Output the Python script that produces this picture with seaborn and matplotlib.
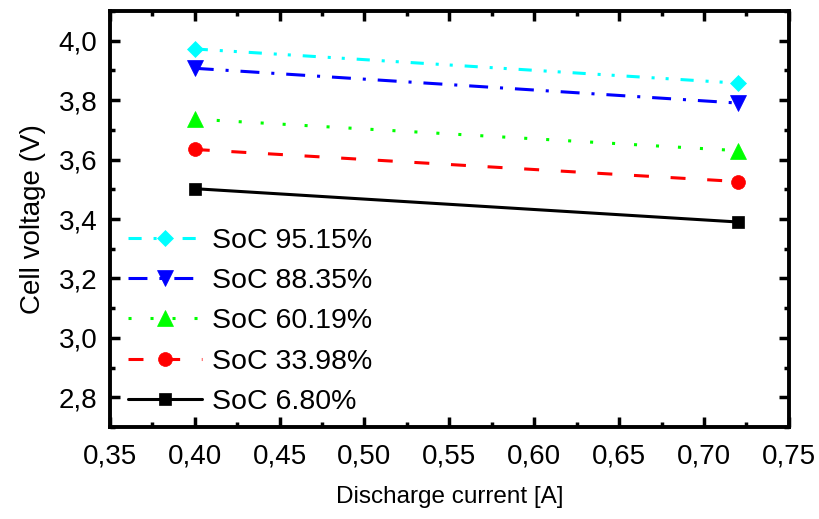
import matplotlib
matplotlib.use("Agg")
import matplotlib.pyplot as plt
import seaborn as sns
import pandas as pd
from matplotlib.ticker import MultipleLocator, FuncFormatter

current = [0.40, 0.72]
soc_labels = ["SoC 95.15%", "SoC 88.35%", "SoC 60.19%", "SoC 33.98%", "SoC 6.80%"]
v_9515 = [3.972, 3.857]
v_8835 = [3.907, 3.790]
v_6019 = [3.736, 3.630]
v_3398 = [3.634, 3.526]
v_0680 = [3.502, 3.390]
values = [v_9515, v_8835, v_6019, v_3398, v_0680]

colors = ["#00ffff", "#0000ff", "#00ff00", "#ff0000", "#000000"]
markers = ["D", "v", "^", "o", "s"]
msizes = [8.5, 11.5, 11.5, 10, 8]
dashes = [(4.3, 3.9, 1, 3.6, 1, 3.9), (6.2, 3.9, 1, 3.9), (1, 6.2), (4.9, 7.1), ()]

rows = []
for lab, vals in zip(soc_labels, values):
    for x, v in zip(current, vals):
        rows.append({"current": x, "voltage": v, "soc": lab})
df = pd.DataFrame(rows)

sns.set_style("ticks")
plt.rcParams['font.family'] = ['Liberation Sans', 'DejaVu Sans']
plt.rcParams['axes.edgecolor'] = 'black'
plt.rcParams['xtick.color'] = 'black'
plt.rcParams['ytick.color'] = 'black'
plt.rcParams['text.color'] = 'black'
plt.rcParams['axes.labelcolor'] = 'black'

fig = plt.figure(figsize=(8.2, 5.19), dpi=100)
ax = fig.add_axes([0.134, 0.177, 0.828, 0.802])

LW = 2.2
for lab, c, m, ms, d in zip(soc_labels, colors, markers, msizes, dashes):
    sub = df[df["soc"] == lab]
    sns.lineplot(data=sub, x="current", y="voltage", ax=ax, color=c, marker=m,
                 markersize=ms, markeredgecolor=c, markeredgewidth=0.5,
                 linewidth=LW, label=lab, dashes=False)
    line = ax.get_lines()[-1]
    if d:
        line.set_dashes(d)
    else:
        line.set_linestyle("-")

ax.set_xlim(0.35, 0.75)
ax.set_ylim(2.7, 4.1)
ax.xaxis.set_major_locator(MultipleLocator(0.05))
ax.xaxis.set_minor_locator(MultipleLocator(0.025))
ax.yaxis.set_major_locator(MultipleLocator(0.2))
ax.yaxis.set_minor_locator(MultipleLocator(0.1))
ax.xaxis.set_major_formatter(FuncFormatter(lambda v, p: f"{v:.2f}".replace(".", ",")))
ax.yaxis.set_major_formatter(FuncFormatter(lambda v, p: f"{v:.1f}".replace(".", ",")))
ax.tick_params(which="both", direction="in", top=True, right=True, width=2.5,
               colors="black")
ax.tick_params(which="major", length=7, labelsize=20)
ax.tick_params(axis="x", which="major", pad=12)
ax.tick_params(axis="y", which="major", pad=9)
ax.tick_params(which="minor", length=3.5)
for s in ax.spines.values():
    s.set_linewidth(2.8)
    s.set_visible(True)
    s.set_color("black")

ax.set_xlabel("Discharge current [A]", fontsize=17.5, labelpad=12)
ax.set_ylabel("Cell voltage (V)", fontsize=20, labelpad=9)

leg = ax.legend(loc="lower left", bbox_to_anchor=(0.0, -0.015), frameon=False,
                fontsize=20.5, handlelength=2.6, handletextpad=0.35,
                labelspacing=0.5, borderaxespad=0.3, borderpad=0.35)
for h in leg.get_lines():
    h.set_linewidth(LW)

fig.savefig("out.png", dpi=100)
